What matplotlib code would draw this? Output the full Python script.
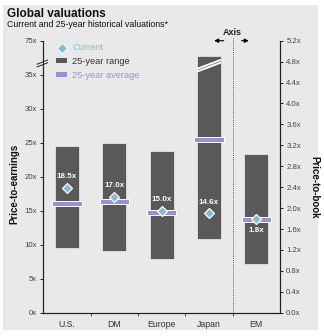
import matplotlib
matplotlib.use("Agg")
import matplotlib.pyplot as plt
from matplotlib.patches import Rectangle, Patch, Polygon
from matplotlib.lines import Line2D
import matplotlib.transforms as mtrans

plt.rcParams['font.family'] = ['Liberation Sans', 'DejaVu Sans']

# ---------------- data ----------------
categories = ["U.S.", "DM", "Europe", "Japan", "EM"]
range_low = [9.5, 9.1, 7.9, 10.8]          # P/E (left axis)
range_high = [24.5, 25.0, 23.8, 37.7]      # Japan shown broken
current_pe = [18.4, 17.0, 15.0, 14.6]
average_pe = [16.1, 16.3, 14.7, 25.5]
em_low, em_high, em_current, em_average = 0.93, 3.03, 1.79, 1.78   # P/B (right axis)
value_labels = ["18.5x", "17.0x", "15.0x", "14.6x", "1.8x"]
left_ticks = [0, 5, 10, 15, 20, 25, 30, 35, 40]
left_ticklabels = ["0x", "5x", "10x", "15x", "20x", "25x", "30x", "35x", "75x"]
right_ticks = [0.0, 0.4, 0.8, 1.2, 1.6, 2.0, 2.4, 2.8, 3.2, 3.6, 4.0, 4.4, 4.8, 5.2]

# ---------------- style ----------------
BG = "#e9e9e9"
RANGE_C = "#595959"
AVG_C = "#9b8fd6"
CUR_C = "#7fbfd6"
TXT = "#444444"

fig = plt.figure(figsize=(3.24, 3.36), dpi=100)
fig.patch.set_facecolor("white")
fig.patches.append(Rectangle((3/324, 6/336), 315/324, 325/336, transform=fig.transFigure,
                             facecolor=BG, edgecolor="none", zorder=-10))

ax = fig.add_axes([43.3/324, 1 - 312.7/336, 236.7/324, 272/336])
ax.set_facecolor(BG)
ax2 = ax.twinx()
ax2.patch.set_visible(False)

bw = 0.51
aw = 0.62
ah_pe = 0.72
ms = 5.3

x = list(range(len(categories)))
# P/E bars
ax.bar(x[:4], [h - l for h, l in zip(range_high, range_low)], bottom=range_low, width=bw,
       color=RANGE_C, edgecolor="#f0f0f0", linewidth=0.5, zorder=2)
ax.bar(x[:4], [ah_pe]*4, bottom=[a - ah_pe/2 for a in average_pe], width=aw,
       color=AVG_C, edgecolor="white", linewidth=0.7, zorder=3)
ax.plot(x[:4], current_pe, linestyle="none", marker="D", markersize=ms,
        markerfacecolor=CUR_C, markeredgecolor="white", markeredgewidth=0.9, zorder=4)

# EM on P/B axis
scale = 5.2 / 40
ax2.bar([4], [em_high - em_low], bottom=[em_low], width=bw,
        color=RANGE_C, edgecolor="#f0f0f0", linewidth=0.5, zorder=2)
ax2.bar([4], [ah_pe*scale], bottom=[em_average - ah_pe*scale/2], width=aw,
        color=AVG_C, edgecolor="white", linewidth=0.7, zorder=3)
ax2.plot([4], [em_current], linestyle="none", marker="D", markersize=ms,
         markerfacecolor=CUR_C, markeredgecolor="white", markeredgewidth=0.9, zorder=4)

# value labels
for i in range(4):
    ax.annotate(value_labels[i], (x[i], current_pe[i]), xytext=(0, 8), textcoords="offset points",
                ha="center", va="center", color="white", fontsize=5.8, fontweight="bold", zorder=5)
ax2.annotate(value_labels[4], (4, em_current), xytext=(0, -8.5), textcoords="offset points",
             ha="center", va="center", color="white", fontsize=5.8, fontweight="bold", zorder=5)

# Japan break marks (white)
jl, jr = 3 - bw/2, 3 + bw/2
ax.plot([jl, jr], [35.45, 36.8], color="white", lw=1.4, zorder=3.5, solid_capstyle="butt")
ax.plot([jl, jr], [35.85, 37.2], color="white", lw=1.4, zorder=3.5, solid_capstyle="butt")

# axes limits & ticks
ax.set_xlim(-0.5, 4.5)
ax.set_ylim(0, 40)
ax2.set_ylim(0, 5.2)
ax.set_yticks(left_ticks)
ax.set_yticklabels(left_ticklabels)
ax2.set_yticks(right_ticks)
ax2.set_yticklabels([f"{t:.1f}x" for t in right_ticks])
ax.set_xticks(x)
ax.set_xticklabels(categories)
ax.set_xticks([0.5, 1.5, 2.5, 3.5], minor=True)
ax.tick_params(axis="x", which="major", length=0, labelsize=6.3, colors="#333333", pad=5)
ax.tick_params(axis="x", which="minor", length=2.5, width=0.6, color="#333333")
ax.tick_params(axis="y", length=2.5, width=0.6, labelsize=5.6, labelcolor=TXT, pad=2)
ax2.tick_params(axis="y", length=2.5, width=0.6, labelsize=5.6, labelcolor=TXT, pad=2)
for a in (ax, ax2):
    a.spines["top"].set_visible(False)
    for s in ("left", "right", "bottom"):
        a.spines[s].set_linewidth(0.8)
        a.spines[s].set_color("#222222")

# dotted separator
bt = mtrans.blended_transform_factory(ax.transData, ax.transAxes)
ax.plot([3.5, 3.5], [0, 1.01], transform=bt,
        color="#666666", lw=0.7, linestyle=(0, (1, 1)), clip_on=False, zorder=1)

# "Axis" annotation with arrows
ax.text(3.5, 1.03, "Axis", transform=bt, ha="center", va="center", fontsize=6.5,
        fontweight="bold", color="#222222")
ax.annotate("", xy=(3.05, 1.0), xytext=(3.37, 1.0), xycoords=bt, textcoords=bt,
            arrowprops=dict(arrowstyle="-|>", color="black", lw=0.8, mutation_scale=6), annotation_clip=False)
ax.annotate("", xy=(3.9, 1.0), xytext=(3.63, 1.0), xycoords=bt, textcoords=bt,
            arrowprops=dict(arrowstyle="-|>", color="black", lw=0.8, mutation_scale=6), annotation_clip=False)

# left axis break
brk = Polygon([[-0.63, 36.15], [-0.41, 36.75], [-0.41, 37.15], [-0.63, 36.55]], closed=True,
              facecolor=BG, edgecolor="none", clip_on=False, zorder=6)
ax.add_patch(brk)
ax.plot([-0.63, -0.41], [36.15, 36.75], color="#222222", lw=0.7, clip_on=False, zorder=7)
ax.plot([-0.63, -0.41], [36.55, 37.15], color="#222222", lw=0.7, clip_on=False, zorder=7)

# legend
handles = [Line2D([0], [0], marker="D", linestyle="none", markersize=ms, markerfacecolor=CUR_C,
                  markeredgecolor="white", markeredgewidth=0.6),
           Patch(facecolor=RANGE_C, edgecolor="none"),
           Patch(facecolor=AVG_C, edgecolor="none")]
leg = ax.legend(handles, ["Current", "25-year range", "25-year average"], loc="upper left",
                bbox_to_anchor=(0.055, 0.99), frameon=False, fontsize=6.7, handlelength=1.2,
                handleheight=0.45, handletextpad=0.5, labelspacing=0.5, borderpad=0, borderaxespad=0)
for t, c in zip(leg.get_texts(), [CUR_C, "#333333", AVG_C]):
    t.set_color(c)
leg.set_zorder(8)

# axis labels
fig.text(14/324, 0.452, "Price-to-earnings", rotation=90, ha="center", va="center",
         fontsize=7, fontweight="bold", color="#111111")
fig.text(314/324, 0.443, "Price-to-book", rotation=-90, ha="center", va="center",
         fontsize=7, fontweight="bold", color="#111111")

# titles
fig.text(7/324, 1 - 14/336, "Global valuations", ha="left", va="center", fontsize=8.5,
         fontweight="bold", color="#111111")
fig.text(7/324, 1 - 24.5/336, "Current and 25-year historical valuations*", ha="left", va="center",
         fontsize=6.3, color="#111111")

fig.savefig("out.png", dpi=100, facecolor=fig.get_facecolor())
